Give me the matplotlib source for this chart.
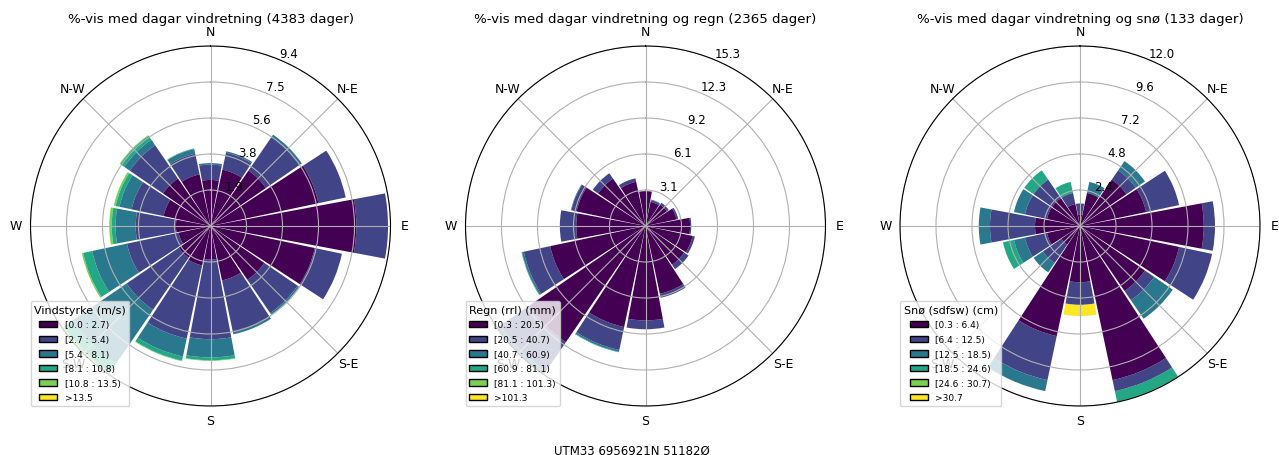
import numpy as np
import matplotlib
matplotlib.use("Agg")
import matplotlib.pyplot as plt
from matplotlib.patches import Patch

# 16 sektorar, med klokka frå nord
retningar = ["N", "NNE", "NE", "ENE", "E", "ESE", "SE", "SSE",
             "S", "SSW", "SW", "WSW", "W", "WNW", "NW", "NNW"]

# --- vindstyrke, % av 4383 dagar, ein liste per klasse
vind_0 = [2.4, 3.0, 3.5, 5.75, 7.6, 5.55, 3.4, 2.9, 1.75, 2.1, 2.0, 1.7, 1.8, 2.5, 3.0, 2.75]
vind_1 = [0.8, 0.9, 2.15, 1.45, 1.65, 1.45, 2.1, 2.75, 4.15, 3.9, 3.3, 2.75, 2.1, 1.7, 2.1, 1.1]
vind_2 = [0.08, 0.08, 0.12, 0.0, 0.0, 0.0, 0.1, 0.12, 0.95, 0.95, 3.4, 1.85, 1.05, 0.65, 0.35, 0.25]
vind_3 = [0, 0, 0, 0, 0, 0, 0, 0, 0.15, 0.22, 0.55, 0.48, 0.2, 0.2, 0.25, 0.03]
vind_4 = [0, 0, 0, 0, 0, 0, 0, 0, 0.03, 0.03, 0.1, 0.07, 0.12, 0.1, 0.04, 0]
vind_5 = [0, 0, 0, 0, 0, 0, 0, 0, 0, 0, 0.03, 0, 0.02, 0, 0, 0]
vind_label = ["[0.0 : 2.7)", "[2.7 : 5.4)", "[5.4 : 8.1)", "[8.1 : 10,8)", "[10.8 : 13.5)", ">13.5"]

# --- regn, % av 2365 dagar
regn_0 = [2.97, 2.1, 2.2, 2.7, 3.8, 4.1, 4.0, 5.9, 8.05, 8.8, 12.0, 8.3, 5.9, 6.0, 4.9, 3.85]
regn_1 = [0, 0.15, 0.2, 0.15, 0.1, 0.2, 0.45, 0.35, 0.75, 2.0, 3.0, 2.3, 1.4, 0.45, 0.55, 0.3]
regn_2 = [0, 0.05, 0, 0, 0, 0, 0, 0, 0, 0.15, 0.3, 0.15, 0, 0.05, 0, 0]
regn_3 = [0, 0, 0, 0, 0, 0, 0, 0, 0, 0.05, 0.04, 0.05, 0, 0, 0, 0]
regn_4 = [0] * 16
regn_5 = [0] * 16
regn_label = ["[0.3 : 20.5)", "[20.5 : 40.7)", "[40.7 : 60.9)", "[60.9 : 81.1)", "[81.1 : 101.3)", ">101.3"]

# --- snø, tal dagar av 133
sno_0 = [1, 3, 5, 6, 11, 9, 7, 14, 5, 10, 2, 3, 4, 3, 3, 2]
sno_1 = [1, 0, 1, 3, 1, 3, 1, 1, 2, 4, 2, 2, 4, 2, 2, 1]
sno_2 = [0, 1, 1, 0, 0, 0, 2, 0, 0, 1, 1, 1, 1, 1, 0, 0]
sno_3 = [0, 0, 0, 0, 0, 0, 0, 1, 0, 0, 0, 1, 0, 0, 1, 1]
sno_4 = [0] * 16
sno_5 = [0, 0, 0, 0, 0, 0, 0, 0, 1, 0, 0, 0, 0, 0, 0, 0]
sno_dagar = 133
sno_label = ["[0.3 : 6.4)", "[6.4 : 12.5)", "[12.5 : 18.5)", "[18.5 : 24.6)", "[24.6 : 30.7)", ">30.7"]

farger = [plt.cm.viridis(v) for v in np.linspace(0, 1, 6)]


def vindrose(ax, klassar, labels, tittel, leg_tittel):
    klassar = np.array(klassar, dtype=float)
    sektor = 2 * np.pi / len(retningar)
    theta = np.arange(len(retningar)) * sektor
    botn = np.zeros(len(retningar))
    for i, verdi in enumerate(klassar):
        ax.bar(theta, verdi, width=sektor * 0.94, bottom=botn, color=farger[i],
               linewidth=0, zorder=1 - i * 0.01)
        botn = botn + verdi

    rmax = botn.max()
    ax.set_theta_zero_location("N")
    ax.set_theta_direction(-1)
    ax.set_ylim(0, rmax)
    radii = np.linspace(0, rmax, 6)[1:]
    ax.set_rgrids(radii, labels=["%.1f" % r for r in radii], angle=22.5, fontsize=8.5)
    ax.set_thetagrids(np.arange(0, 360, 45),
                      labels=["N", "N-E", "E", "S-E", "S", "S-W", "W", "N-W"], fontsize=9)
    ax.tick_params(axis="x", pad=0)
    ax.set_title(tittel, fontsize=9.6, pad=0)

    handles = [Patch(facecolor=farger[i], edgecolor="black", label=labels[i]) for i in range(6)]
    ax.legend(handles=handles, title=leg_tittel, loc="lower left", borderaxespad=0,
              fontsize=6.5, title_fontsize=8, labelspacing=0.62)


fig = plt.figure(figsize=(12.79, 4.56), dpi=100)
w, h = 360 / 1279, 360 / 456
bunn = (456 - 227 - 180) / 456
ax1 = fig.add_axes([30.5 / 1279, bunn, w, h], projection="polar")
ax2 = fig.add_axes([465.5 / 1279, bunn, w, h], projection="polar")
ax3 = fig.add_axes([900 / 1279, bunn, w, h], projection="polar")

vindrose(ax1, [vind_0, vind_1, vind_2, vind_3, vind_4, vind_5], vind_label,
         "%-vis med dagar vindretning (4383 dager)", "Vindstyrke (m/s)")
vindrose(ax2, [regn_0, regn_1, regn_2, regn_3, regn_4, regn_5], regn_label,
         "%-vis med dagar vindretning og regn (2365 dager)", "Regn (rrl) (mm)")
sno = np.array([sno_0, sno_1, sno_2, sno_3, sno_4, sno_5]) / sno_dagar * 100
vindrose(ax3, sno, sno_label,
         "%-vis med dagar vindretning og snø (133 dager)", "Snø (sdfsw) (cm)")

fig.text(632 / 1279, 0.011, "UTM33 6956921N 51182Ø", ha="center", va="center", fontsize=8.5)

fig.savefig("out.png", dpi=100)
